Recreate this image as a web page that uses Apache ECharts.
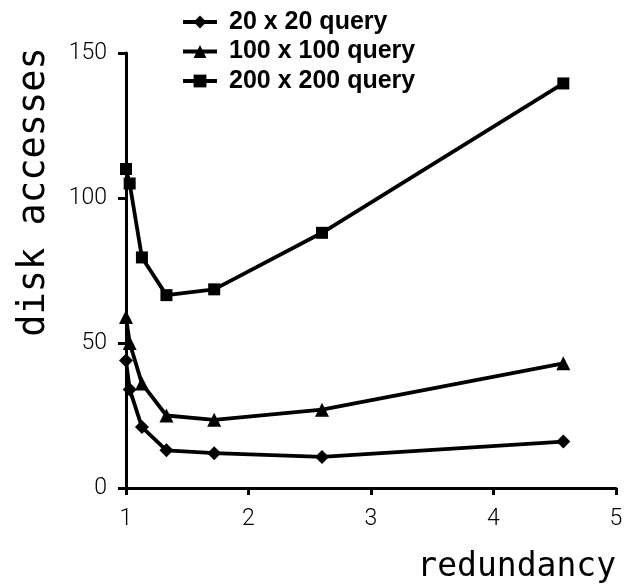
<!DOCTYPE html>
<html><head><meta charset="utf-8">
<script src="https://cdn.jsdelivr.net/npm/echarts@6/dist/echarts.min.js"></script>
<style>html,body{margin:0;padding:0;background:#fff}#c{width:628px;height:585px}</style>
</head><body><div id="c"></div>
<script>
const redundancy = [1.0, 1.03, 1.13, 1.33, 1.72, 2.6, 4.57];
const q20 = [44, 34, 21, 13, 12, 10.7, 16];
const q100 = [59, 50, 36, 25, 23.5, 27, 43];
const q200 = [110, 105, 79.5, 66.5, 68.5, 88, 139.5];
const seriesNames = ['20 x 20 query', '100 x 100 query', '200 x 200 query'];
const xTicks = [1, 2, 3, 4, 5];
const yTicks = [0, 50, 100, 150];

const pair = arr => arr.map((v, i) => [redundancy[i], v]);
const chart = echarts.init(document.getElementById('c'));
const tickFont = {fontFamily: 'Roboto', fontWeight: 300, fontSize: 23, color: '#000'};
const mk = (name, data, symbol, size) => ({
  name, type: 'line', data: pair(data), symbol, symbolSize: size,
  lineStyle: {color: '#000', width: 3.8}, itemStyle: {color: '#000'}, z: 3
});
chart.setOption({
  animation: false,
  backgroundColor: '#fff',
  grid: {left: 126, right: 12, top: 53, bottom: 97},
  legend: {
    orient: 'vertical', left: 176, top: 4, itemGap: 3.5, itemWidth: 34, itemHeight: 16,
    lineStyle: {width: 4, color: '#000'},
    textStyle: {fontFamily: 'Liberation Sans', fontWeight: 'bold', fontSize: 25, lineHeight: 26,
                color: '#000', padding: [0, 0, 0, 7]},
    data: seriesNames
  },
  xAxis: {
    type: 'value', min: xTicks[0], max: xTicks[xTicks.length - 1], interval: 1,
    axisLine: {lineStyle: {color: '#000', width: 3}},
    axisTick: {show: true, length: 7, lineStyle: {color: '#000', width: 3}},
    axisLabel: Object.assign({margin: 20, formatter: v => xTicks.includes(v) ? String(v) : ''}, tickFont),
    splitLine: {show: false}
  },
  yAxis: {
    type: 'value', min: yTicks[0], max: yTicks[yTicks.length - 1], interval: 50,
    axisLine: {show: true, lineStyle: {color: '#000', width: 3}},
    axisTick: {show: true, length: 8, lineStyle: {color: '#000', width: 3}},
    axisLabel: Object.assign({margin: 19, formatter: v => yTicks.includes(v) ? String(v) : ''}, tickFont),
    splitLine: {show: false}
  },
  graphic: [
    {type: 'text', x: 34, y: 192, rotation: Math.PI / 2,
     style: {text: 'disk accesses', fontFamily: 'DejaVu Sans Mono', fontSize: 37, fill: '#000',
             align: 'center', verticalAlign: 'middle'}},
    {type: 'text', x: 616, y: 567,
     style: {text: 'redundancy', fontFamily: 'DejaVu Sans Mono', fontSize: 33, fill: '#000',
             align: 'right', verticalAlign: 'middle'}}
  ],
  series: [
    mk(seriesNames[0], q20, 'diamond', 14),
    mk(seriesNames[1], q100, 'triangle', 14),
    mk(seriesNames[2], q200, 'rect', 12)
  ]
});
</script></body></html>
